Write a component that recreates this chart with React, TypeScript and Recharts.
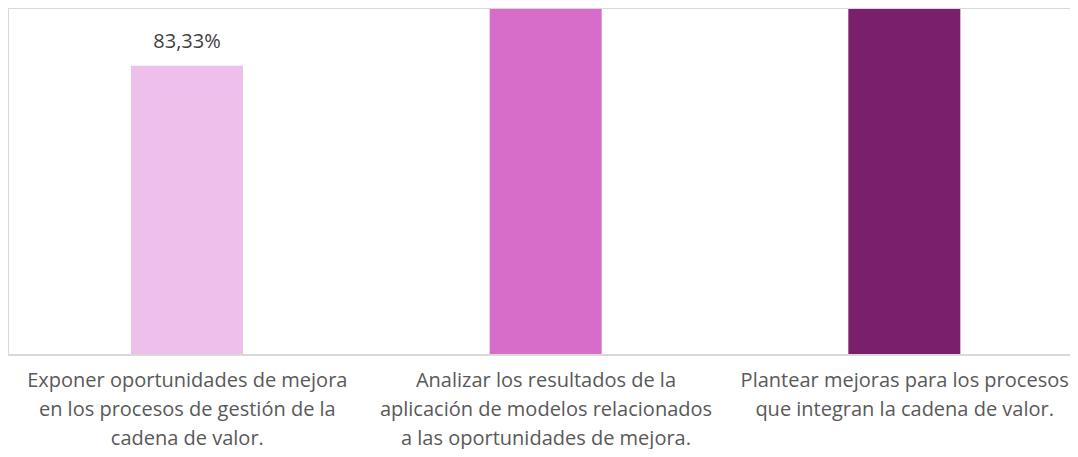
import { BarChart, Bar, XAxis, YAxis, Cell, LabelList, ReferenceLine } from 'recharts'

const categories = [
  ['Exponer oportunidades de mejora', 'en los procesos de gestión de la', 'cadena de valor.'],
  ['Analizar los resultados de la', 'aplicación de modelos relacionados', 'a las oportunidades de mejora.'],
  ['Plantear mejoras para los procesos', 'que integran la cadena de valor.'],
]
const values = [0.8333, 1, 1]
const colors = ['#EDBFEA', '#D76DC8', '#7A1F6B']

const data = categories.map((lines, i) => ({ name: lines.join('\n'), value: values[i] }))

const FONT = '"Open Sans", sans-serif'
const GRID = '#D9D9D9'

function Tick({ x, y, payload }: any) {
  const lines = String(payload.value).split('\n')
  return (
    <text x={x} y={y} textAnchor="middle" fill="#595959" fontSize={20} fontFamily={FONT}>
      {lines.map((l, i) => (
        <tspan key={i} x={x} y={y + 24 + i * 29}>{l}</tspan>
      ))}
    </text>
  )
}

function ValueLabel({ x, y, width, value }: any) {
  // labels above the plot top are cut off in the original
  if (y < 20) return null
  const txt = (value * 100).toFixed(2).replace('.', ',') + '%'
  return (
    <text x={x + width / 2} y={y - 18} textAnchor="middle" fill="#404040" fontSize={20} fontFamily={FONT}>
      {txt}
    </text>
  )
}

export default function App() {
  return (
    <div style={{ margin: -8, width: 1078, height: 457, overflow: 'hidden', background: '#fff' }}>
      <BarChart width={1084} height={457} data={data} margin={{ top: 8, right: 0, bottom: 0, left: 7 }}>
        <XAxis dataKey="name" interval={0} height={102} tickLine={false} axisLine={{ stroke: GRID, strokeWidth: 2 }} tick={<Tick />} />
        <YAxis domain={[0, 1]} width={1} tick={false} tickLine={false} axisLine={{ stroke: GRID, strokeWidth: 2 }} />
        <ReferenceLine y={1} stroke={GRID} strokeWidth={2} />
        <Bar dataKey="value" barSize={112} isAnimationActive={false}>
          {data.map((_, i) => (
            <Cell key={i} fill={colors[i]} />
          ))}
          <LabelList dataKey="value" content={<ValueLabel />} />
        </Bar>
      </BarChart>
    </div>
  )
}
